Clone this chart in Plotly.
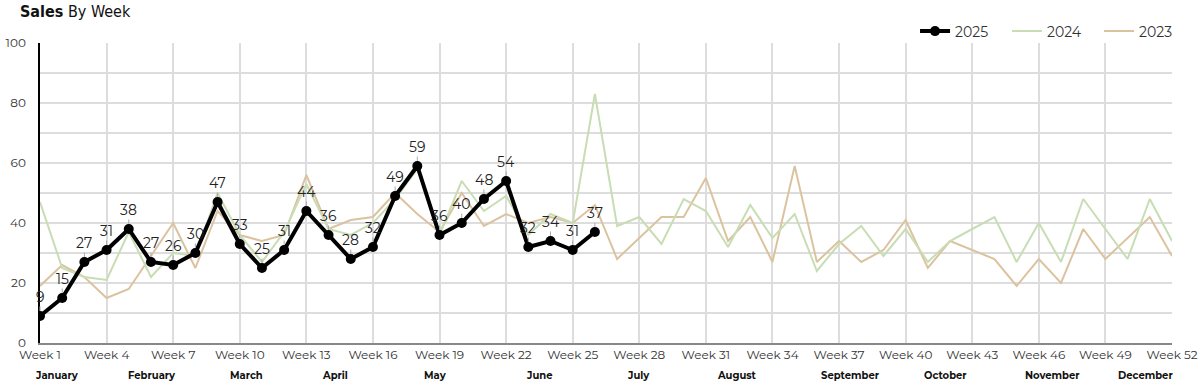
import plotly.graph_objects as go

weeks = list(range(1, 53))
sales_2025 = [9, 15, 27, 31, 38, 27, 26, 30, 47, 33, 25, 31, 44, 36, 28, 32, 49, 59, 36, 40, 48, 54, 32, 34, 31, 37]
sales_2024 = [47, 25, 22, 21, 37, 22, 30, 29, 50, 36, 27, 37, 53, 38, 36, 40, 48, 58, 36, 54, 44, 49, 36, 43, 40, 83,
              39, 42, 33, 48, 44, 32, 46, 35, 43, 24, 33, 39, 29, 38, 27, 34, 38, 42, 27, 40, 27, 48, 38, 28, 48, 34]
sales_2023 = [19, 26, 22, 15, 18, 29, 40, 25, 44, 36, 34, 36, 56, 38, 41, 42, 50, 43, 37, 50, 39, 43, 40, 42, 40, 46,
              28, 35, 42, 42, 55, 34, 42, 27, 59, 27, 34, 27, 31, 41, 25, 34, 31, 28, 19, 28, 20, 38, 28, 35, 42, 29]
tick_weeks = list(range(1, 53, 3))
tick_labels = [f"Week {w}" for w in tick_weeks]
months = ["January", "February", "March", "April", "May", "June", "July", "August",
          "September", "October", "November", "December"]
month_pos = [1.75, 6.05, 10.3, 14.3, 18.8, 23.5, 27.95, 32.4, 37.5, 41.8, 46.6, 50.8]

FONT = "Montserrat, Lato, Open Sans, sans-serif"
TITLE_FONT = "Liberation Sans Narrow, DejaVu Sans Condensed, sans-serif"
GREEN = "#c8ddb4"
TAN = "#dcc39f"

fig = go.Figure()
fig.add_trace(go.Scatter(x=weeks, y=sales_2023, mode="lines", name="2023",
                         line=dict(color=TAN, width=2), legendrank=3))
fig.add_trace(go.Scatter(x=weeks, y=sales_2024, mode="lines", name="2024",
                         line=dict(color=GREEN, width=2), legendrank=2))
fig.add_trace(go.Scatter(x=weeks[:len(sales_2025)], y=sales_2025, mode="lines+markers", name="2025",
                         line=dict(color="#000000", width=4), marker=dict(size=10, color="#000000"),
                         legendrank=1))

for w, v in zip(weeks, sales_2025):
    fig.add_annotation(x=w, y=v, text=str(v), showarrow=True, arrowhead=0, arrowwidth=1,
                       arrowcolor="#aaaaaa", ax=0, ay=-19, standoff=5,
                       font=dict(family=FONT, size=14, color="#222222"), borderpad=0)

for m, p in zip(months, month_pos):
    fig.add_annotation(x=p, y=0, yref="paper", yanchor="middle", yshift=-32, text=f"<b>{m}</b>",
                       showarrow=False, font=dict(family=FONT, size=10, color="#111111"))

fig.add_annotation(x=0, xref="paper", xanchor="left", y=1, yref="paper", yanchor="middle",
                   xshift=-22, yshift=32, text="<b>Sales</b> By Week", showarrow=False,
                   font=dict(family=TITLE_FONT, size=16, color="#111111"))

fig.update_layout(
    width=1200, height=386,
    margin=dict(l=40, r=28, t=43, b=43, autoexpand=False),
    paper_bgcolor="white", plot_bgcolor="white",
    font=dict(family=FONT, size=12, color="#333333"),
    showlegend=True,
    legend=dict(orientation="h", x=0.773, xanchor="left", y=0.985, yanchor="bottom",
                entrywidth=47, entrywidthmode="pixels",
                font=dict(family=FONT, size=14, color="#333333"), traceorder="normal",
                bgcolor="rgba(0,0,0,0)"),
    xaxis=dict(range=[1, 52], tickmode="array", tickvals=tick_weeks, ticktext=tick_labels,
               showgrid=True, gridcolor="#dddddd", gridwidth=1.5, zeroline=False,
               showline=True, linecolor="#888888", linewidth=1.5, ticks="",
               tickfont=dict(family=FONT, size=12, color="#333333")),
    yaxis=dict(range=[0, 100], tickmode="linear", tick0=0, dtick=20,
               showgrid=True, gridcolor="#dddddd", gridwidth=1.5, zeroline=False,
               minor=dict(dtick=10, showgrid=True, gridcolor="#dddddd", gridwidth=1.5),
               showline=True, linecolor="#000000", linewidth=1.5, ticks="",
               ticklabelstandoff=10,
               tickfont=dict(family=FONT, size=12, color="#333333")),
)

fig.write_html("out.html", config={"displayModeBar": False},
               post_script="document.body.style.margin='0';")
